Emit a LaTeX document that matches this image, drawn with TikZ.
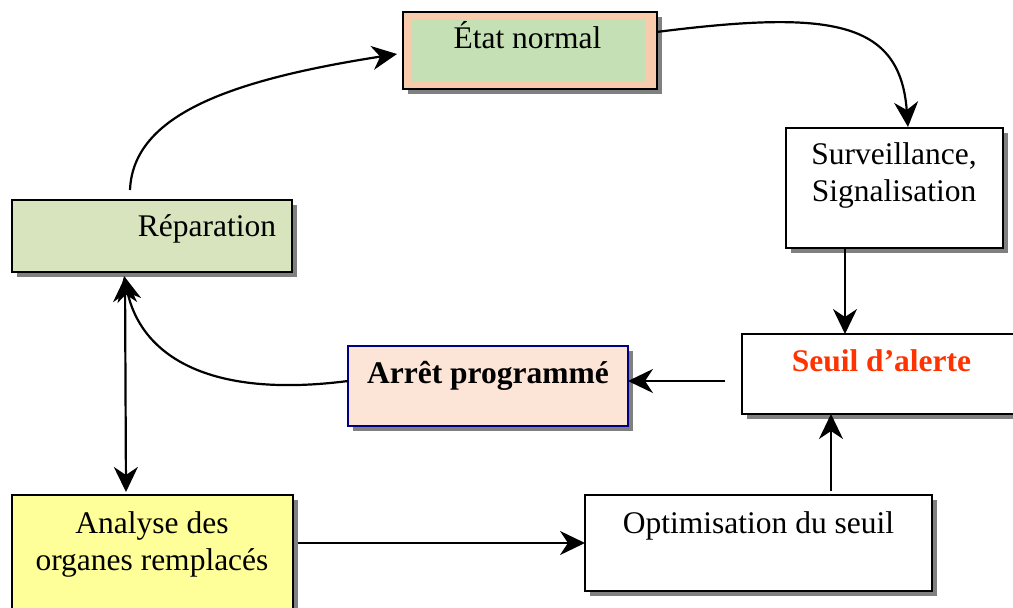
\documentclass[tikz,border=0pt]{standalone}
\usepackage{fontspec}
\setmainfont{Liberation Serif}
\usetikzlibrary{arrows.meta,shadows}
\definecolor{peach}{HTML}{F8CBAD}
\definecolor{softgreen}{HTML}{C5E0B4}
\definecolor{repgreen}{HTML}{D7E4BD}
\definecolor{arretfill}{HTML}{FCE4D6}
\definecolor{analfill}{HTML}{FFFF99}
\definecolor{alertred}{HTML}{FF3300}
\definecolor{navyline}{HTML}{000080}
\definecolor{shadowgray}{HTML}{808080}
\begin{document}
\begin{tikzpicture}[x=1pt,y=-1pt,
  boxshadow/.style={general shadow={fill=shadowgray, shadow xshift=5pt, shadow yshift=-5pt}},
  box/.style={draw=black, line width=2pt, inner sep=0pt, outer sep=0pt, boxshadow},
  txt/.style={inner sep=0pt, outer sep=0pt, anchor=base, align=center, font=\fontsize{31.5}{37}\selectfont},
  arr/.style={line width=2.2pt, -{Stealth[length=25pt,width=24pt,inset=8pt]}},
  arrtwo/.style={line width=2.2pt, {Stealth[length=25pt,width=24pt,inset=8pt]}-{Stealth[length=25pt,width=24pt,inset=8pt]}}
]
\useasboundingbox (0,0) rectangle (1013,608);
% boxes
\node[box, fill=peach, minimum width=254, minimum height=77] (etat) at (529.5,50.5) {};
\node[fill=softgreen, inner sep=0pt, minimum width=234, minimum height=63] (etatin) at (528,50.5) {};
\node[box, fill=white, minimum width=217, minimum height=120] (surv) at (894.5,188) {};
\node[box, fill=white, minimum width=278, minimum height=80] (seuil) at (881,374) {};
\node[box, draw=navyline, fill=arretfill, minimum width=280, minimum height=80] (arret) at (488,386) {};
\node[box, fill=repgreen, minimum width=280, minimum height=72] (rep) at (152,236) {};
\node[box, fill=analfill, minimum width=281, minimum height=125] (anal) at (152.5,557.5) {};
\node[box, fill=white, minimum width=347, minimum height=96] (opt) at (758.5,543) {};
% texts
\node[txt] (tetat) at (527.5,48) {État normal};
\node[txt] (tsurv) at (894,201.5) {Surveillance,\\Signalisation};
\node[txt, text=alertred, font=\fontsize{31.5}{37}\selectfont\bfseries] (tseuil) at (881.5,371.5) {Seuil d’alerte};
\node[txt, font=\fontsize{31.5}{37}\selectfont\bfseries] (tarret) at (488,383) {Arrêt programmé};
\node[txt] (trep) at (207,236) {Réparation};
\node[txt] (tanal) at (152,570.5) {Analyse des\\organes remplacés};
\node[txt] (topt) at (758.5,533) {Optimisation du seuil};
% connectors
\draw[arr] ([xshift=-22pt,yshift=10pt]rep.north) .. controls (133,115) and (230,80) .. ([xshift=-5.5pt,yshift=-3.5pt]etat.west);
\draw[arr] ([yshift=18.5pt]etat.east) .. controls (830,10) and (900,20) .. ([xshift=13.5pt,yshift=1pt]surv.north);
\draw[arr] ([xshift=-49.5pt]surv.south) -- ([xshift=-36pt]seuil.north);
\draw[arr] ([xshift=-17pt,yshift=-7pt]seuil.west) -- ([yshift=5pt]arret.east);
\draw[arr] ([yshift=5pt]arret.west) .. controls (200,400) and (140,350) .. ([xshift=-28pt,yshift=-4pt]rep.south);
\draw[arrtwo] ([xshift=-27pt,yshift=-5pt]rep.south) -- ([xshift=-26.5pt,yshift=3pt]anal.north);
\draw[arr] ([xshift=5pt,yshift=14.5pt]anal.east) -- (opt.west);
\draw[arr] ([xshift=72.5pt,yshift=4pt]opt.north) -- ([xshift=-50pt]seuil.south);
\end{tikzpicture}
\end{document}
